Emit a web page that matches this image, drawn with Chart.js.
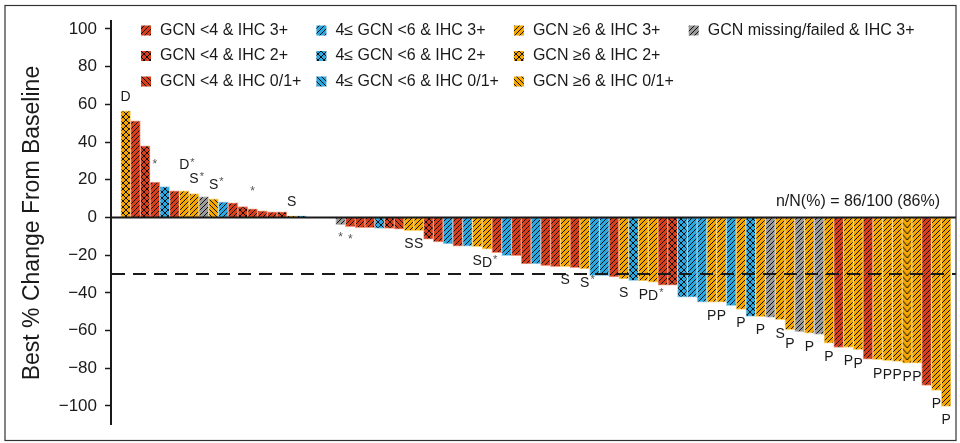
<!DOCTYPE html>
<html>
<head>
<meta charset="utf-8">
<script src="https://cdn.jsdelivr.net/npm/chart.js@4.4.1/dist/chart.umd.min.js"></script>
<style>
html,body{margin:0;padding:0;background:#fff;}
canvas{display:block;}
</style>
</head>
<body>
<canvas id="c" width="960" height="443"></canvas>
<script>
// ---------------- DATA ----------------
// Patients with tumour growth (best % change > 0), in waterfall order
const increaseValues = [56.5, 51.2, 38.0, 18.8, 16.3, 14.1, 14.1, 12.7, 11.0, 9.9,
                        8.3, 7.8, 5.7, 4.6, 3.5, 3.0, 3.0, 0.9, 0.9];
const increaseGroups = ['Y2','R3','R2','R3','B2','R3','Y3','Y3','G3','Y0',
                        'B3','R3','R2','R3','R3','R3','R2','Y3','B3'];
const increaseNotes  = ['D','','','*','','','D*','S*','','S*',
                        '','','','*','','','','S',''];
// Patients with tumour shrinkage (best % change < 0)
const decreaseValues = [-4.0, -4.9, -5.5, -5.5, -5.8, -5.8, -6.2, -7.0, -7.0, -11.5,
                        -13.0, -14.0, -15.3, -15.3, -15.5, -16.8, -18.7, -20.3, -20.3, -24.7,
                        -24.7, -25.6, -26.1, -26.1, -26.6, -27.3, -30.9, -30.9, -31.6, -32.6,
                        -33.5, -33.7, -34.4, -35.9, -35.9, -42.3, -42.3, -44.9, -44.9, -44.9,
                        -46.8, -48.8, -52.5, -52.6, -53.1, -54.3, -59.6, -60.7, -61.4, -62.0,
                        -66.7, -68.9, -69.0, -70.2, -75.2, -75.5, -76.0, -76.4, -77.3, -77.3,
                        -89.1, -91.8, -100.3];
const decreaseGroups = ['G3','R3','R3','R3','B2','R2','R0','Y3','Y3','R2',
                        'R3','B3','R3','B3','Y3','Y3','R3','B3','R3','R3',
                        'B3','R3','R3','Y3','R3','Y3','B3','B3','R3','Y3',
                        'B2','Y3','Y3','R3','R2','B2','B3','B3','Y3','Y3',
                        'B3','Y3','B2','Y3','G3','Y3','Y3','G3','Y3','G3',
                        'Y3','R3','Y3','Y3','R3','Y3','Y3','Y3','Yv','Y3',
                        'R3','Y3','Y3'];
const decreaseNotes  = ['*','*','','','','','','S','S','',
                        '','','','','S','D*','','','','',
                        '','','','S','','S*','','','','S',
                        '','P','D*','','','','','','P','P',
                        '','P','','P','','S','P','','P','',
                        'P','','P','P','','P','P','P','P','P',
                        '','P','P'];
const emptyBefore = 1;   // empty category slot before the first patient
const emptyBetween = 3;  // empty category slots between growth and shrinkage
const yTickValues = [-100, -80, -60, -40, -20, 0, 20, 40, 60, 80, 100];
const thresholdValue = -30;
const responseText = 'n/N(%) = 86/100 (86%)';
const legendLabels = {
  R3: 'GCN <4 & IHC 3+',  R2: 'GCN <4 & IHC 2+',  R0: 'GCN <4 & IHC 0/1+',
  B3: '4\u2264 GCN <6 & IHC 3+', B2: '4\u2264 GCN <6 & IHC 2+', B0: '4\u2264 GCN <6 & IHC 0/1+',
  Y3: 'GCN \u22656 & IHC 3+', Y2: 'GCN \u22656 & IHC 2+', Y0: 'GCN \u22656 & IHC 0/1+',
  G3: 'GCN missing/failed & IHC 3+'
};
const legendColumns = [['R3','R2','R0'], ['B3','B2','B0'], ['Y3','Y2','Y0'], ['G3']];

// ---------------- BUILD ----------------
const nulls = n => Array(n).fill(null);
const values = [...nulls(emptyBefore), ...increaseValues, ...nulls(emptyBetween), ...decreaseValues];
const groups = [...nulls(emptyBefore), ...increaseGroups, ...nulls(emptyBetween), ...decreaseGroups];
const notes  = [...nulls(emptyBefore), ...increaseNotes,  ...nulls(emptyBetween), ...decreaseNotes];
const slotLabels = values.map((v, i) => String(i));

const FONT = "'Liberation Sans', Arial, Helvetica, sans-serif";
const INK = '#1a1a1a';
const baseColors = { R: '#d6401d', B: '#2ba8df', Y: '#f4a700', G: '#9b9b9b' };
const edgeColors = { R: '#f09a84', B: '#9fd6f0', Y: '#fbd57a', G: '#cfcfcf' };

function makePattern(color, kind) {
  const w = kind === 'v' ? 10 : (kind === '2' ? 6 : 5);
  const h = kind === 'v' ? 6 : w;
  const c = document.createElement('canvas');
  c.width = w; c.height = h;
  const g = c.getContext('2d');
  g.fillStyle = color; g.fillRect(0, 0, w, h);
  g.strokeStyle = 'rgba(0,0,0,0.9)';
  g.lineWidth = 1;
  const s = w;
  const fwd = () => { g.beginPath(); g.moveTo(0, s); g.lineTo(s, 0); g.moveTo(-2, 2); g.lineTo(2, -2); g.moveTo(s - 2, s + 2); g.lineTo(s + 2, s - 2); g.stroke(); };
  const back = () => { g.beginPath(); g.moveTo(0, 0); g.lineTo(s, s); g.moveTo(-2, s - 2); g.lineTo(2, s + 2); g.moveTo(s - 2, -2); g.lineTo(s + 2, 2); g.stroke(); };
  if (kind === '3') fwd();
  else if (kind === '0') back();
  else if (kind === '2') { fwd(); back(); }
  else if (kind === 'v') {
    g.beginPath();
    for (let k = -1; k <= 1; k++) {
      g.moveTo(0, k * h); g.lineTo(w / 2, k * h + h); g.lineTo(w, k * h);
    }
    g.stroke();
  }
  return g.createPattern(c, 'repeat');
}
const patternCache = {};
function patternFor(code) {
  if (!code) return 'rgba(0,0,0,0)';
  if (!patternCache[code]) {
    const kind = code[1] === 'v' ? 'v' : code[1];
    patternCache[code] = makePattern(baseColors[code[0]], kind);
  }
  return patternCache[code];
}
const fills = groups.map(patternFor);
const edges = groups.map(g => g ? edgeColors[g[0]] : 'rgba(0,0,0,0)');

const FRAME = { left: 5, top: 5.5, right: 956, bottom: 440.5 };

function noteWidth(ctx, text) {
  const letter = text.replace('*', '');
  let w = 0;
  if (letter) { ctx.font = '14px ' + FONT; w = ctx.measureText(letter).width; if (text.indexOf('*') >= 0) w += 8; }
  else w = 6;
  return w;
}

function drawNote(ctx, text, cx, cy) {
  const letter = text.replace('*', '');
  const star = text.indexOf('*') >= 0;
  ctx.textBaseline = 'middle';
  if (letter) {
    ctx.font = '14px ' + FONT;
    ctx.fillStyle = INK;
    ctx.textAlign = 'center';
    ctx.fillText(letter, cx, cy);
    if (star) {
      const lw = ctx.measureText(letter).width;
      ctx.font = '11px ' + FONT;
      ctx.fillStyle = '#555';
      ctx.textAlign = 'left';
      ctx.fillText('*', cx + lw / 2 + 1, cy - 3);
    }
  } else if (star) {
    ctx.font = '12px ' + FONT;
    ctx.fillStyle = '#555';
    ctx.textAlign = 'center';
    ctx.fillText('*', cx, cy);
  }
}

const annotate = {
  id: 'annotate',
  beforeDatasetsDraw(chart) {
    const meta = chart.getDatasetMeta(0);
    groups.forEach((g, i) => {
      if (g && g[1] === 'v') {
        const el = meta.data[i];
        const left = el.x - el.width / 2;
        fills[i].setTransform(new DOMMatrix([1, 0, 0, 1, left, 0]));
      }
    });
  },
  afterDatasetsDraw(chart) {
    const { ctx, chartArea } = chart;
    const y = chart.scales.y;
    const meta = chart.getDatasetMeta(0);
    ctx.save();
    // threshold dashed line
    const yt = y.getPixelForValue(thresholdValue);
    ctx.strokeStyle = INK; ctx.lineWidth = 2; ctx.setLineDash([13, 8]);
    ctx.beginPath(); ctx.moveTo(chartArea.left + 1, yt); ctx.lineTo(FRAME.right, yt); ctx.stroke();
    ctx.setLineDash([]);
    // zero line
    const y0 = y.getPixelForValue(0);
    ctx.beginPath(); ctx.moveTo(chartArea.left, y0); ctx.lineTo(FRAME.right, y0); ctx.stroke();
    // notes (right to left; labels above bars are lifted when they collide)
    const placed = [];
    const H = 13;
    for (let i = notes.length - 1; i >= 0; i--) {
      const t = notes[i];
      if (!t) continue;
      const el = meta.data[i];
      const v = values[i];
      const onlyStar = t === '*';
      const off = v >= 0 ? (onlyStar ? -17 : -14) : (onlyStar ? 13 : 14);
      let cy = el.y + off;
      const w = noteWidth(ctx, t);
      const x1 = el.x - w / 2, x2 = el.x + w / 2;
      if (v >= 0) {
        let moved = true;
        while (moved) {
          moved = false;
          for (const b of placed) {
            if (x1 < b.x2 && x2 > b.x1 && cy - H / 2 < b.y2 && cy + H / 2 > b.y1) {
              cy = b.y1 - H / 2 - 1; moved = true;
            }
          }
        }
      }
      placed.push({ x1, x2, y1: cy - H / 2, y2: cy + H / 2 });
      drawNote(ctx, t, el.x, cy);
    }
    // response text
    ctx.font = '16px ' + FONT;
    ctx.fillStyle = INK;
    ctx.textAlign = 'right';
    ctx.textBaseline = 'middle';
    ctx.fillText(responseText, chartArea.right - 11, y0 - 16);
    // legend
    ctx.font = '16px ' + FONT;
    let x = chartArea.left + 30;
    const rowY = [30.5, 56, 81.5];
    legendColumns.forEach(col => {
      let maxW = 0;
      col.forEach((code, r) => {
        const cy = rowY[r];
        ctx.fillStyle = patternFor(code);
        ctx.fillRect(x, cy - 5, 10, 10);
        ctx.fillStyle = INK;
        ctx.textAlign = 'left';
        ctx.fillText(legendLabels[code], x + 19, cy);
        maxW = Math.max(maxW, ctx.measureText(legendLabels[code]).width);
      });
      x += 19 + maxW + 15;
    });
    // frame
    ctx.strokeStyle = '#333'; ctx.lineWidth = 1.2;
    ctx.strokeRect(FRAME.left, FRAME.top, FRAME.right - FRAME.left, FRAME.bottom - FRAME.top);
    ctx.restore();
  }
};

new Chart(document.getElementById('c'), {
  type: 'bar',
  data: {
    labels: slotLabels,
    datasets: [{
      data: values,
      backgroundColor: fills,
      borderColor: edges,
      borderWidth: 1,
      barPercentage: 1,
      categoryPercentage: 1
    }]
  },
  options: {
    responsive: false,
    animation: false,
    devicePixelRatio: 1,
    layout: { padding: { left: 0, right: 9, top: 21.35, bottom: 17.6 } },
    plugins: { legend: { display: false }, tooltip: { enabled: false } },
    scales: {
      x: { display: false, offset: true },
      y: {
        min: -110, max: 104,
        afterBuildTicks: s => { s.ticks = yTickValues.map(v => ({ value: v })); },
        afterFit: s => { s.width = 111; },
        ticks: {
          callback: v => (v < 0 ? '\u2212' + Math.abs(v) : String(v)),
          font: { family: FONT, size: 17 },
          color: INK,
          padding: 8
        },
        grid: { display: true, drawOnChartArea: false, drawTicks: true, tickLength: 6, tickColor: INK, tickWidth: 1.5 },
        border: { display: true, color: INK, width: 2 },
        title: { display: true, text: 'Best % Change From Baseline', font: { family: FONT, size: 23 }, color: INK, padding: { top: 19, bottom: 0 } }
      }
    }
  },
  plugins: [annotate]
});
</script>
</body>
</html>
